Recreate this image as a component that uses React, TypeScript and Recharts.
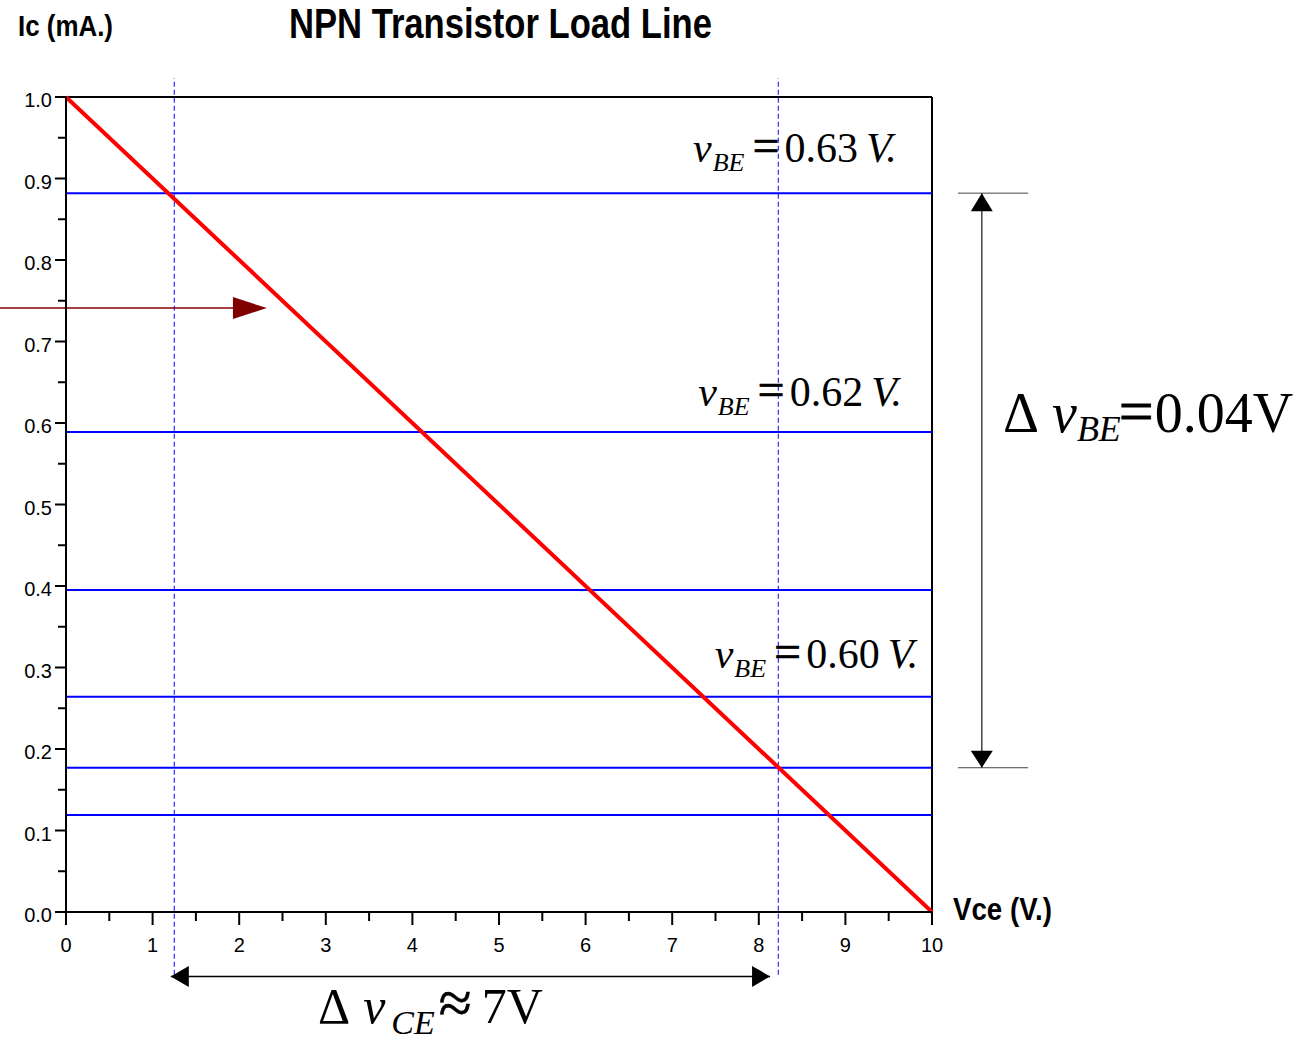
import { LineChart, Line, XAxis, YAxis, ReferenceLine, ReferenceDot } from "recharts";

const SANS = "'Liberation Sans', Arial, sans-serif";
const SERIF = "'Liberation Serif', 'Times New Roman', serif";

// load line end points (Vce in V., Ic in mA.)
const vceValues = [0, 10];
const icValues = [1.0, 0.0];
const loadLine = vceValues.map((v, i) => ({ vce: v, ic: icValues[i] }));

// horizontal Ic levels for the different vBE curves
const vbeLevels = [0.882, 0.589, 0.395, 0.264, 0.177, 0.119];
// Vce where the swing limits cross the load line
const swingVce = [1.25, 8.225];

const xTicks = [0, 0.5, 1, 1.5, 2, 2.5, 3, 3.5, 4, 4.5, 5, 5.5, 6, 6.5, 7, 7.5, 8, 8.5, 9, 9.5, 10];
const yTicks = [0, 0.05, 0.1, 0.15, 0.2, 0.25, 0.3, 0.35, 0.4, 0.45, 0.5, 0.55, 0.6, 0.65, 0.7, 0.75, 0.8, 0.85, 0.9, 0.95, 1.0];

const vbeLabels = [
  { value: "0.63", vce: 7.24, ic: 0.92 },
  { value: "0.62", vce: 7.3, ic: 0.621 },
  { value: "0.60", vce: 7.49, ic: 0.299 },
];

const isMajor = (v: number, step: number) => Math.abs(v / step - Math.round(v / step)) < 1e-6;

function XTick(props: any) {
  const { x, y, payload } = props;
  const major = isMajor(payload.value, 1);
  return (
    <g>
      <line x1={x} x2={x} y1={y} y2={y + (major ? 13 : 9)} stroke="#000" strokeWidth={2} />
      {major && (
        <text x={x} y={y + 40} textAnchor="middle" fontFamily={SANS} fontSize={20} fill="#000">
          {payload.value}
        </text>
      )}
    </g>
  );
}

function YTick(props: any) {
  const { x, y, payload } = props;
  const major = isMajor(payload.value, 0.1);
  return (
    <g>
      <line x1={x - (major ? 11 : 8)} x2={x} y1={y} y2={y} stroke="#000" strokeWidth={2} />
      {major && (
        <text x={x - 14} y={y + 10} textAnchor="end" fontFamily={SANS} fontSize={20} fill="#000">
          {payload.value.toFixed(1)}
        </text>
      )}
    </g>
  );
}

const vbeShape = (value: string) => (p: any) => (
  <text x={p.cx} y={p.cy} fontFamily={SERIF} fontSize={42} fill="#000">
    <tspan fontStyle="italic">v</tspan>
    <tspan fontStyle="italic" fontSize={26} dx={1} dy={9}>BE</tspan>
    <tspan fontSize={48} stroke="#000" strokeWidth={0.6} dx={8} dy={-9}>=</tspan>
    <tspan dx={5}>{value}</tspan>
    <tspan fontStyle="italic" dx={8}>V.</tspan>
  </text>
);

const deltaVbeShape = (p: any) => (
  <text x={p.cx} y={p.cy} fontFamily={SERIF} fontSize={56} fill="#000">
    <tspan>Δ</tspan>
    <tspan fontStyle="italic" dx={13}>v</tspan>
    <tspan fontStyle="italic" fontSize={36} dy={9}>BE</tspan>
    <tspan fontSize={62} stroke="#000" strokeWidth={0.8} dx={-2} dy={-9}>=</tspan>
    <tspan dx={1}>0.04V</tspan>
  </text>
);

const deltaVceShape = (p: any) => (
  <text x={p.cx} y={p.cy} fontFamily={SERIF} fontSize={50} fill="#000">
    <tspan>Δ</tspan>
    <tspan fontStyle="italic" dx={13}>v</tspan>
    <tspan fontStyle="italic" fontSize={34} dx={6} dy={11}>CE</tspan>
    <tspan fontSize={60} stroke="#000" strokeWidth={0.6} dx={4} dy={-11}>≈</tspan>
    <tspan dx={10}>7V</tspan>
  </text>
);

const arrowHead = (dir: string, len: number, half: number, fill: string) => (p: any) => {
  const { cx, cy } = p;
  let pts = "";
  if (dir === "right") pts = `${cx},${cy} ${cx - len},${cy - half} ${cx - len},${cy + half}`;
  if (dir === "left") pts = `${cx},${cy} ${cx + len},${cy - half} ${cx + len},${cy + half}`;
  if (dir === "up") pts = `${cx},${cy} ${cx - half},${cy + len} ${cx + half},${cy + len}`;
  if (dir === "down") pts = `${cx},${cy} ${cx - half},${cy - len} ${cx + half},${cy - len}`;
  return <polygon points={pts} fill={fill} />;
};

export default function App() {
  return (
    <div style={{ position: "absolute", left: 0, top: 0, width: 1314, height: 1040, background: "#fff" }}>
      <LineChart
        width={1314}
        height={1040}
        data={loadLine}
        margin={{ top: 97, right: 382, bottom: 98, left: 6 }}
      >
        <XAxis
          type="number"
          dataKey="vce"
          domain={[0, 10]}
          ticks={xTicks}
          interval={0}
          height={30}
          tickSize={0}
          tickMargin={0}
          tickLine={false}
          axisLine={{ stroke: "#000", strokeWidth: 2 }}
          tick={(p: any) => <XTick {...p} />}
        />
        <YAxis
          type="number"
          domain={[0, 1]}
          ticks={yTicks}
          interval={0}
          width={60}
          tickSize={0}
          tickMargin={0}
          tickLine={false}
          axisLine={{ stroke: "#000", strokeWidth: 2 }}
          tick={(p: any) => <YTick {...p} />}
        />

        <ReferenceLine y={1} stroke="#000" strokeWidth={2} />
        <ReferenceLine x={10} stroke="#000" strokeWidth={2} />

        {vbeLevels.map((lv) => (
          <ReferenceLine key={lv} y={lv} stroke="#0000ff" strokeWidth={2} />
        ))}

        {swingVce.map((v) => (
          <ReferenceLine
            key={v}
            segment={[{ x: v, y: -0.077 }, { x: v, y: 1.023 }]}
            ifOverflow="visible"
            stroke="#0000ff"
            strokeWidth={1}
            strokeDasharray="5 3"
          />
        ))}

        {/* swing of Vce */}
        <ReferenceLine
          segment={[{ x: 1.21, y: -0.079 }, { x: 8.13, y: -0.079 }]}
          ifOverflow="visible"
          stroke="#000"
          strokeWidth={1.5}
        />
        <ReferenceDot x={1.21} y={-0.079} r={1} ifOverflow="visible" shape={arrowHead("left", 18, 10.5, "#000")} />
        <ReferenceDot x={8.13} y={-0.079} r={1} ifOverflow="visible" shape={arrowHead("right", 18, 10.5, "#000")} />

        {/* swing of vBE */}
        <ReferenceLine
          segment={[{ x: 10.575, y: vbeLevels[0] }, { x: 10.575, y: vbeLevels[4] }]}
          ifOverflow="visible"
          stroke="#444"
          strokeWidth={1.5}
        />
        {[vbeLevels[0], vbeLevels[4]].map((lv) => (
          <ReferenceLine
            key={"bar" + lv}
            segment={[{ x: 10.3, y: lv }, { x: 11.11, y: lv }]}
            ifOverflow="visible"
            stroke="#444"
            strokeWidth={1}
          />
        ))}
        <ReferenceDot x={10.575} y={vbeLevels[0]} r={1} ifOverflow="visible" shape={arrowHead("up", 18, 11, "#000")} />
        <ReferenceDot x={10.575} y={vbeLevels[4]} r={1} ifOverflow="visible" shape={arrowHead("down", 17, 11, "#000")} />

        {/* operating point pointer */}
        <ReferenceLine
          segment={[{ x: -0.8, y: 0.741 }, { x: 1.95, y: 0.741 }]}
          ifOverflow="visible"
          stroke="#800000"
          strokeWidth={1.5}
        />
        <ReferenceDot x={2.32} y={0.741} r={1} ifOverflow="visible" shape={arrowHead("right", 34, 11, "#800000")} />

        <Line
          dataKey="ic"
          stroke="#ff0000"
          strokeWidth={4}
          dot={false}
          activeDot={false}
          isAnimationActive={false}
        />

        {vbeLabels.map((l) => (
          <ReferenceDot key={l.value} x={l.vce} y={l.ic} r={1} ifOverflow="visible" shape={vbeShape(l.value)} />
        ))}
        <ReferenceDot x={10.82} y={0.589} r={1} ifOverflow="visible" shape={deltaVbeShape} />
        <ReferenceDot x={2.91} y={-0.136} r={1} ifOverflow="visible" shape={deltaVceShape} />
      </LineChart>

      <svg
        width={1314}
        height={1040}
        style={{ position: "absolute", left: 0, top: 0, pointerEvents: "none" }}
      >
        <text x={18} y={36} fontFamily={SANS} fontWeight="bold" fontSize={29} textLength={95} lengthAdjust="spacingAndGlyphs">
          Ic (mA.)
        </text>
        <text x={289} y={38} fontFamily={SANS} fontWeight="bold" fontSize={42} textLength={423} lengthAdjust="spacingAndGlyphs">
          NPN Transistor Load Line
        </text>
        <text x={953} y={920} fontFamily={SANS} fontWeight="bold" fontSize={31} textLength={99} lengthAdjust="spacingAndGlyphs">
          Vce (V.)
        </text>
      </svg>
    </div>
  );
}
